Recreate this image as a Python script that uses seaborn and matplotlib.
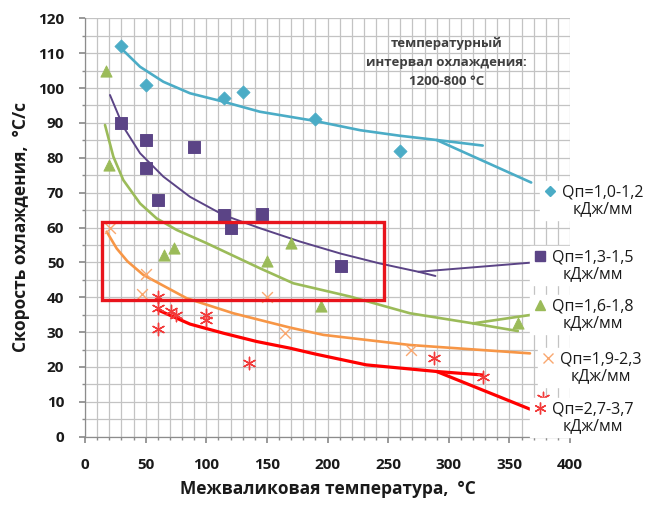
import matplotlib
matplotlib.use("Agg")
import matplotlib.pyplot as plt
import seaborn as sns
from matplotlib.lines import Line2D
from matplotlib.patches import Rectangle
from matplotlib.legend_handler import HandlerLine2D

sns.set_theme(style="white")
plt.rcParams['font.family'] = ['Open Sans', 'DejaVu Sans']

# ---- data ----
labels = ["Qп=1,0-1,2\nкДж/мм", "Qп=1,3-1,5\nкДж/мм", "Qп=1,6-1,8\nкДж/мм",
          "Qп=1,9-2,3\nкДж/мм", "Qп=2,7-3,7\nкДж/мм"]

blue_x = [30, 50, 115, 130, 190, 260]
blue_y = [112, 101, 97, 99, 91, 82]
purple_x = [30, 50, 50, 60, 90, 115, 120, 146, 211]
purple_y = [90, 85, 77, 68, 83, 63.6, 60, 64, 49]
green_x = [17, 20, 65, 73, 150, 170, 195, 357]
green_y = [105, 78, 52, 54, 50.5, 55.5, 37.5, 32.5]
orange_x = [21, 50, 47, 150, 165, 269]
orange_y = [60, 46.7, 41, 40, 29.7, 25]
red_x = [60, 60, 60, 71, 75, 100, 100, 135, 288, 328, 378]
red_y = [40, 37, 31, 36, 35, 35, 33.5, 21, 22.5, 17, 11]

# trend lines
blue_tx = [28.3, 45.4, 64.6, 86.6, 114, 144.3, 189, 227, 260, 290, 328]
blue_ty = [111.9, 106.1, 101.8, 98.5, 96.1, 93.2, 90.6, 87.9, 86.3, 85.1, 83.5]
blue_bx = [290, 368]
blue_by = [85.1, 72.9]
purple_tx = [20.6, 31.6, 45.4, 64.6, 86.6, 114, 144.3, 177, 211, 243, 275, 289]
purple_ty = [98, 88.9, 81.3, 74.6, 68.8, 63.6, 59.8, 56, 52.5, 49.7, 47.3, 46.1]
purple_bx = [275, 367]
purple_by = [47.3, 49.9]
green_tx = [16.5, 23.4, 31.6, 45.4, 59.1, 75.6, 100.3, 144.3, 171.8, 218.6, 268, 320, 357]
green_ty = [89.4, 80.3, 73.6, 66.9, 62.6, 59.3, 55.5, 48.3, 44, 40.2, 35.4, 32.5, 30.3]
green_bx = [320, 367]
green_by = [32.5, 34.9]
orange_tx = [17.9, 26.1, 35, 48.1, 83.9, 122.3, 169, 196.6, 268, 367]
orange_ty = [58.8, 54, 50.3, 46.4, 39.7, 35.4, 31.3, 29.2, 26.3, 23.9]
red_tx = [60.5, 86.6, 114, 141.6, 169, 190, 232, 290, 328]
red_ty = [36.3, 32.3, 29.7, 27.3, 25.4, 23.7, 20.6, 18.7, 17.7]
red_bx = [290, 367]
red_by = [18.7, 7.9]

# highlighted region
rect_x = [14, 247]
rect_y = [39.2, 61.5]

colors = ["#4BACC6", "#5B4486", "#9BBB59", "#F79646", "#FF0000"]

W, H = 659, 513
fig = plt.figure(figsize=(W / 100, H / 100), dpi=100)
ax = fig.add_axes([85 / W, 1 - 436.7 / H, 485 / W, 418.4 / H])

ax.set_xlim(0, 400)
ax.set_ylim(0, 120)
ax.set_xticks(range(0, 401, 50))
ax.set_xticks(range(0, 401, 10), minor=True)
ax.set_yticks(range(0, 121, 10))
ax.set_yticks(range(0, 121, 5), minor=True)
ax.grid(True, which='both', color="#C3C3C3", linewidth=0.9)
ax.set_axisbelow(True)
for s in ['top', 'right']:
    ax.spines[s].set_visible(False)
for s in ['left', 'bottom']:
    ax.spines[s].set_color("#8C8C8C")
    ax.spines[s].set_linewidth(0.9)
ax.tick_params(axis='both', which='major', length=4, color="#8C8C8C", pad=11,
               labelsize=11, labelcolor="#1a1a1a", left=True, bottom=True)
ax.tick_params(axis='both', which='minor', length=2.5, color="#8C8C8C",
               left=True, bottom=True)
for t in ax.get_xticklabels() + ax.get_yticklabels():
    t.set_fontweight('bold')

def line(xs, ys, c, lw=1.9):
    sns.lineplot(x=xs, y=ys, ax=ax, color=c, linewidth=lw, sort=False,
                 estimator=None, legend=False, zorder=3)

line(blue_tx, blue_ty, colors[0]); line(blue_bx, blue_by, colors[0])
line(purple_tx, purple_ty, colors[1], 1.4); line(purple_bx, purple_by, colors[1], 1.4)
line(green_tx, green_ty, colors[2]); line(green_bx, green_by, colors[2])
line(orange_tx, orange_ty, colors[3])
line(red_tx, red_ty, colors[4], 2.3); line(red_bx, red_by, colors[4], 2.3)

sns.scatterplot(x=blue_x, y=blue_y, ax=ax, marker='D', s=45, color=colors[0],
                edgecolor=colors[0], zorder=4, legend=False)
sns.scatterplot(x=purple_x, y=purple_y, ax=ax, marker='s', s=70, color=colors[1],
                edgecolor=colors[1], zorder=4, legend=False)
sns.scatterplot(x=green_x, y=green_y, ax=ax, marker='^', s=65, color=colors[2],
                edgecolor=colors[2], zorder=4, legend=False)
sns.scatterplot(x=orange_x, y=orange_y, ax=ax, marker='x', s=60, color="#F9A870",
                linewidth=1.0, zorder=4, legend=False)
sns.scatterplot(x=red_x, y=red_y, ax=ax, marker=(6, 2, 0), s=80, color="#F23A3A",
                linewidth=1.0, zorder=4, legend=False)

ax.add_patch(Rectangle((rect_x[0], rect_y[0]), rect_x[1] - rect_x[0], rect_y[1] - rect_y[0],
                       fill=False, edgecolor="#E8141C", linewidth=2.4, zorder=5))

ax.text(298, 107.3, "температурный\nинтервал охлаждения:\n1200-800 °C", ha='center', va='center',
        fontsize=9.5, fontweight='bold', color="#404040", linespacing=1.6, zorder=6)

ax.set_xlabel("Межваликовая температура,  °C", fontsize=12.5, fontweight='bold',
              color="#1a1a1a", labelpad=6)
ax.set_ylabel("Скорость охлаждения,  °С/с", fontsize=12.5, fontweight='bold',
              color="#1a1a1a", labelpad=6)


class FirstLineHandler(HandlerLine2D):
    """Puts the legend marker beside the first line of a two-line label."""
    def create_artists(self, legend, orig_handle, xdescent, ydescent, width, height,
                       fontsize, trans):
        return super().create_artists(legend, orig_handle, xdescent, ydescent - 1.25 * fontsize,
                                      width, height, fontsize, trans)


handles = [
    Line2D([], [], linestyle='none', marker='D', markersize=5.5, color=colors[0]),
    Line2D([], [], linestyle='none', marker='s', markersize=6.5, color=colors[1]),
    Line2D([], [], linestyle='none', marker='^', markersize=7, color=colors[2]),
    Line2D([], [], linestyle='none', marker='x', markersize=7.5, color="#F9A870", markeredgewidth=1.0),
    Line2D([], [], linestyle='none', marker=(6, 2, 0), markersize=8.5, color="#F23A3A", markeredgewidth=1.0),
]
# legend entries: left edge of label text and vertical centre of the two-line label (pixels)
entry_text_left = [561.7, 551.7, 551.7, 560.0, 552.0]
entry_center_y = [200.9, 265.9, 314.9, 367.5, 417.5]
fs = 11.5
fs_px = fs * 100 / 72
for h, lab, tx, cy in zip(handles, labels, entry_text_left, entry_center_y):
    x_anchor = tx - (0.8 + 0.35 + 0.2) * fs_px
    leg = fig.legend([h], [lab], loc='center left', bbox_to_anchor=(x_anchor / W, 1 - cy / H),
                     frameon=True, facecolor='white', edgecolor='white', framealpha=1,
                     fontsize=fs, handlelength=0.8, handletextpad=0.35, borderpad=0.2,
                     borderaxespad=0, fancybox=False,
                     handler_map={Line2D: FirstLineHandler()})
    for t in leg.get_texts():
        t.set_multialignment('center')
        t.set_color("#1a1a1a")
        t.set_linespacing(1.05)

fig.savefig("out.png", dpi=100)
